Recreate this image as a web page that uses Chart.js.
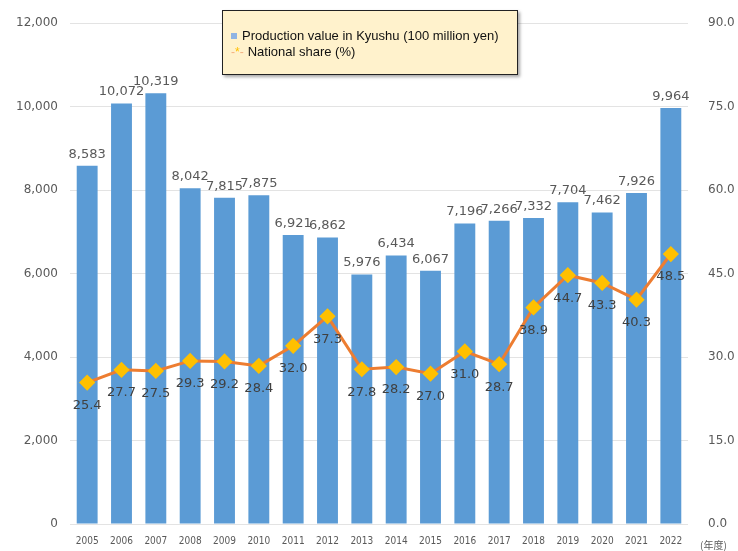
<!DOCTYPE html>
<html>
<head>
<meta charset="utf-8">
<script src="https://cdn.jsdelivr.net/npm/chart.js@4"></script>
<style>
  html, body { margin: 0; padding: 0; background: #fff; }
  #wrap { position: relative; width: 738px; height: 551px; overflow: hidden; }
  #legend {
    position: absolute; left: 222px; top: 10px; width: 296px; height: 65px;
    background: #FFF2CC; border: 1.5px solid #222; box-shadow: 2px 2px 3px rgba(0,0,0,0.35);
    font: 13px "Liberation Sans", Arial, sans-serif; color: #111; box-sizing: border-box;
    padding: 17px 0 0 8px; line-height: 16px;
  }
  #legend .sq { display: inline-block; width: 6px; height: 6px; background: #8FB4E3; margin-right: 5px; vertical-align: 1px; }
  #legend .mk { color: #F4B183; font-size: 12px; margin-right: 4px; }
  #legend .mk b { color: #FFC000; font-weight: normal; }
</style>
</head>
<body>
<div id="wrap">
  <canvas id="chart" width="738" height="551"></canvas>
  <div id="legend"></div>
</div>
<script>
const years = ['2005','2006','2007','2008','2009','2010','2011','2012','2013','2014','2015','2016','2017','2018','2019','2020','2021','2022'];
const productionValue = [8583, 10072, 10319, 8042, 7815, 7875, 6921, 6862, 5976, 6434, 6067, 7196, 7266, 7332, 7704, 7462, 7926, 9964];
const nationalShare = [25.4, 27.7, 27.5, 29.3, 29.2, 28.4, 32.0, 37.3, 27.8, 28.2, 27.0, 31.0, 28.7, 38.9, 44.7, 43.3, 40.3, 48.5];
const leftTicks = { min: 0, max: 12000, step: 2000 };
const rightTicks = { min: 0, max: 90, step: 15 };
const barLabel = 'Production value in Kyushu (100 million yen)';
const lineLabel = 'National share (%)';
const unitLabel = '(年度)';

const labelColor = '#595959';
const tickFont = { family: 'DejaVu Sans', size: 12 };

// value labels + unit text drawn after datasets
const valueLabels = {
    id: 'valueLabels',
    afterDatasetsDraw(chart) {
        const ctx = chart.ctx;
        ctx.save();
        ctx.font = '13px "DejaVu Sans"';
        ctx.textAlign = 'center';

        ctx.fillStyle = labelColor;
        const barMeta = chart.getDatasetMeta(1);
        barMeta.data.forEach((bar, i) => {
            ctx.textBaseline = 'bottom';
            ctx.fillText(productionValue[i].toLocaleString('en-US'), bar.x, bar.y - 5);
        });

        ctx.fillStyle = '#404040';
        const lineMeta = chart.getDatasetMeta(0);
        lineMeta.data.forEach((pt, i) => {
            ctx.textBaseline = 'middle';
            ctx.fillText(nationalShare[i].toFixed(1), pt.x, pt.y + 23);
        });

        ctx.fillStyle = labelColor;
        ctx.font = '10px "Noto Sans CJK JP"';
        ctx.textAlign = 'left';
        ctx.fillText(unitLabel, 700, 545);
        ctx.restore();
    }
};

const chart = new Chart(document.getElementById('chart'), {
    data: {
        labels: years,
        datasets: [
            {
                type: 'line',
                label: lineLabel,
                data: nationalShare,
                yAxisID: 'yR',
                borderColor: '#ED7D31',
                borderWidth: 3,
                pointStyle: 'rectRot',
                pointRadius: 6,
                pointBackgroundColor: '#FFC000',
                pointBorderColor: '#FFC000',
                tension: 0,
                order: 1
            },
            {
                type: 'bar',
                label: barLabel,
                data: productionValue,
                yAxisID: 'yL',
                backgroundColor: '#5B9BD5',
                categoryPercentage: 0.78,
                barPercentage: 0.78,
                order: 2
            }
        ]
    },
    plugins: [valueLabels],
    options: {
        responsive: false,
        animation: false,
        layout: { padding: { top: 23, left: 0, right: 0, bottom: 0 } },
        plugins: { legend: { display: false }, tooltip: { enabled: false } },
        scales: {
            x: {
                grid: { display: false },
                border: { display: false },
                ticks: { color: labelColor, font: { family: 'DejaVu Sans Condensed', size: 10 }, maxRotation: 0, autoSkip: false, padding: 3 },
                afterFit(scale) { scale.height = 27; }
            },
            yL: {
                position: 'left',
                min: leftTicks.min, max: leftTicks.max,
                ticks: { stepSize: leftTicks.step, color: labelColor, font: tickFont, padding: 12,
                         callback: v => v.toLocaleString('en-US') },
                grid: { color: '#e3e3e3', drawTicks: false },
                border: { display: false },
                afterFit(scale) { scale.width = 70; }
            },
            yR: {
                position: 'right',
                min: rightTicks.min, max: rightTicks.max,
                ticks: { stepSize: rightTicks.step, color: labelColor, font: tickFont, padding: 12,
                         callback: v => v.toFixed(1) },
                grid: { display: false },
                border: { display: false },
                afterFit(scale) { scale.width = 50; }
            }
        }
    }
});

// legend box built from dataset labels
document.getElementById('legend').innerHTML =
    '<div><span class="sq"></span>' + barLabel + '</div>' +
    '<div><span class="mk">-<b>*</b>-</span>' + lineLabel + '</div>';
</script>
</body>
</html>
